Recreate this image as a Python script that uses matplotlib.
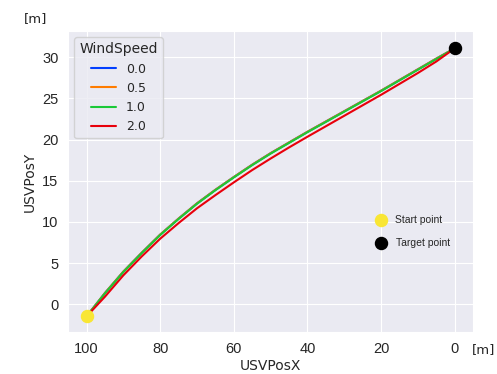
import numpy as np
import matplotlib
matplotlib.use('Agg')
from matplotlib import pyplot as plt
import seaborn as sns

# path samples (USVPosX, USVPosY)
pos_x = [100, 95, 90, 85, 80, 75, 70, 65, 60, 55, 50, 45, 40, 30, 20, 10, 5, 0]
pos_y_0 = [-1.5, 1.35, 3.95, 6.25, 8.45, 10.4, 12.25, 13.9, 15.45, 16.95, 18.35, 19.65, 20.95,
           23.45, 25.95, 28.55, 29.85, 31.1]
pos_y_05 = [-1.5, 1.35, 3.95, 6.25, 8.45, 10.4, 12.25, 13.9, 15.45, 16.95, 18.35, 19.65, 20.95,
            23.45, 25.95, 28.55, 29.85, 31.1]
pos_y_1 = [-1.5, 1.3, 3.9, 6.2, 8.4, 10.35, 12.2, 13.85, 15.4, 16.9, 18.3, 19.6, 20.9,
           23.4, 25.9, 28.5, 29.8, 31.1]
pos_y_2 = [-1.5, 0.9, 3.5, 5.8, 7.95, 9.85, 11.65, 13.25, 14.8, 16.3, 17.7, 19.05, 20.35,
           22.9, 25.45, 28.1, 29.5, 31.1]
wind_speeds = ['0.0', '0.5', '1.0', '2.0']

start = (100, -1.5)
target = (0, 31.1)


def main():
    sns.set_style('darkgrid')
    colors = ['#023eff', '#ff7c00', '#1ac938', '#e8000b']
    fig, ax = plt.subplots(figsize=(4.97, 3.74), dpi=100)

    for ys, c, lab in zip([pos_y_0, pos_y_05, pos_y_1, pos_y_2], colors, wind_speeds):
        ax.plot(pos_x, ys, color=c, label=lab, linewidth=1.5)

    ax.scatter([start[0]], [start[1]], s=75, color='#f9e634', zorder=5)
    ax.scatter([target[0]], [target[1]], s=75, color='black', zorder=5)

    # small in-plot key for the markers
    ax.scatter([20], [10.2], s=75, color='#f9e634', zorder=5)
    ax.scatter([20], [7.4], s=75, color='black', zorder=5)
    ax.text(16.3, 10.2, 'Start point', fontsize=7.5, va='center', family='Liberation Sans')
    ax.text(16.0, 7.4, 'Target point', fontsize=7.5, va='center', family='Liberation Sans')

    ax.set_xlim(105, -5)
    ax.set_ylim(-3.4, 33.2)
    ax.set_xticks([100, 80, 60, 40, 20, 0])
    ax.set_yticks([0, 5, 10, 15, 20, 25, 30])
    for lbl in ax.get_xticklabels() + ax.get_yticklabels():
        lbl.set_family('Liberation Sans')
        lbl.set_fontsize(10.5)
    ax.set_xlabel('USVPosX', labelpad=2)
    ax.set_ylabel('USVPosY')
    ax.legend(title='WindSpeed', loc='upper left', fontsize=9, title_fontsize=10)

    fig.text(0.072, 0.94, '[m]', fontsize=9.5, ha='center')
    fig.text(0.997, 0.055, '[m]', fontsize=9.5, ha='right')

    fig.subplots_adjust(left=0.137, right=0.952, top=0.917, bottom=0.112)
    fig.savefig('out.png', dpi=100)


if __name__ == "__main__":
    main()
